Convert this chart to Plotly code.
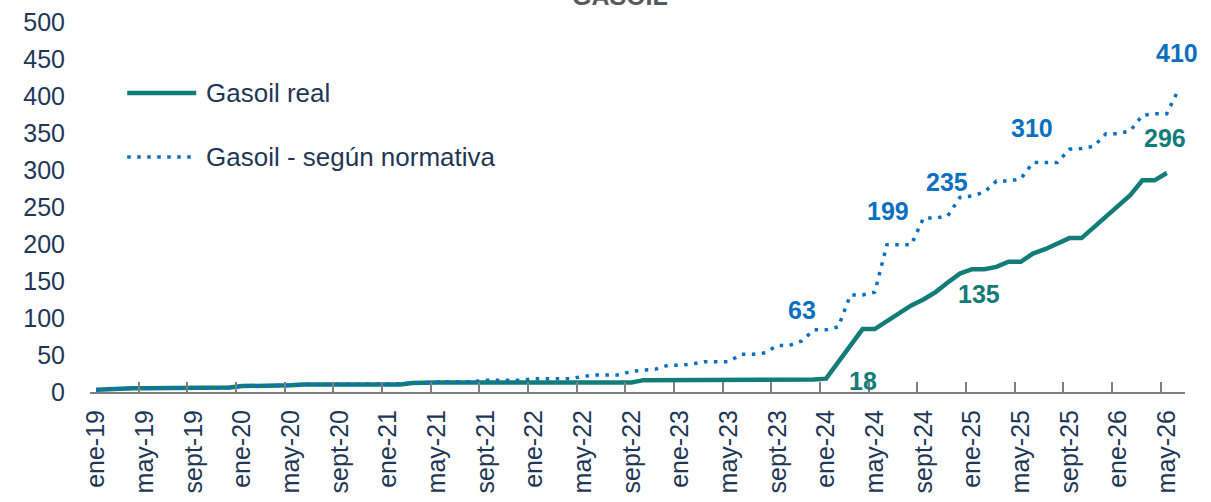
import plotly.graph_objects as go

# Categories: monthly, ene-19 .. jun-26
month_names = ["ene", "feb", "mar", "abr", "may", "jun", "jul", "ago", "sept", "oct", "nov", "dic"]
years = ["19", "20", "21", "22", "23", "24", "25", "26"]
months = [f"{m}-{y}" for y in years for m in month_names][:90]

# Gasoil real (ene-19 .. may-26)
gasoil_real = [
    3, 4, 5, 5, 5, 5, 5, 5, 5, 5, 5, 6,
    8, 8, 8, 8, 9, 10, 10, 10, 10, 10, 10, 10,
    10, 10, 12, 13, 13, 13, 13, 13, 13, 13, 13, 13,
    13, 13, 13, 13, 13, 13, 13, 13, 13, 16, 16, 16,
    17, 17, 17, 17, 17, 17, 17, 17, 17, 17, 17, 17,
    18, 40, 62, 85, 85, 96, 106, 117, 125, 135, 148, 160,
    166, 166, 169, 176, 176, 187, 193, 200, 208, 208, 223, 237,
    253, 266, 286, 286, 296,
]

# Gasoil - según normativa (ene-19 .. jun-26)
gasoil_normativa = [
    3, 4, 5, 5, 5, 5, 5, 5, 5, 5, 5, 6,
    8, 8, 8, 8, 9, 10, 10, 10, 10, 10, 10, 10,
    11, 11, 12, 13, 13, 14, 14, 14, 16, 16, 16, 16,
    18, 18, 18, 18, 21, 23, 23, 23, 28, 29, 31, 36,
    36, 38, 41, 41, 41, 51, 51, 53, 63, 63, 69, 84,
    84, 88, 131, 131, 135, 199, 199, 199, 235, 235, 238, 263,
    265, 270, 285, 285, 288, 310, 310, 310, 328, 329, 332, 349,
    349, 353, 374, 376, 376, 410,
]

GREEN = "#127C79"
BLUE = "#0B6FC2"
NAVY = "#1F3756"
GREY = "#7F7F7F"
FONT = "Liberation Sans, Arial, sans-serif"
DOTS = "3.5px,6.5px"

fig = go.Figure()
fig.add_trace(go.Scatter(
    x=months[:len(gasoil_real)], y=gasoil_real, mode="lines",
    line=dict(color=GREEN, width=4.5), name="Gasoil real", showlegend=False,
))
fig.add_trace(go.Scatter(
    x=months, y=gasoil_normativa, mode="lines",
    line=dict(color=BLUE, width=3.5, dash=DOTS),
    name="Gasoil - según normativa", showlegend=False,
))

# value labels: (series, month, xshift, yshift)
labels = [
    (gasoil_normativa, "oct-23", BLUE, 12, 35),
    (gasoil_normativa, "jul-24", BLUE, -11, 34),
    (gasoil_normativa, "oct-24", BLUE, 11, 36),
    (gasoil_normativa, "jul-25", BLUE, -13, 35),
    (gasoil_normativa, "jun-26", BLUE, -2, 36),
    (gasoil_real, "ene-24", GREEN, 37, -2),
    (gasoil_real, "oct-24", GREEN, 43, -2),
    (gasoil_real, "may-26", GREEN, -2, 35),
]
for series, m, color, dx, dy in labels:
    v = series[months.index(m)]
    fig.add_annotation(
        x=m, y=v, xref="x", yref="y", text=f"<b>{v}</b>", showarrow=False,
        xshift=dx, yshift=dy, font=dict(family=FONT, size=25, color=color),
    )

# legend drawn by hand (long line samples as in the original)
legend_items = [("Gasoil real", GREEN, 4.5, "solid", 0.808),
                ("Gasoil - según normativa", BLUE, 3.5, DOTS, 0.635)]
for name, color, w, dash, ly in legend_items:
    fig.add_shape(type="line", xref="paper", yref="paper",
                  x0=0.034, x1=0.097, y0=ly, y1=ly,
                  line=dict(color=color, width=w, dash=dash))
    fig.add_annotation(x=0.104, y=ly, xref="paper", yref="paper", text=name,
                       showarrow=False, xanchor="left", yanchor="middle",
                       font=dict(family=FONT, size=26, color=NAVY))

# title, mostly cut off at the top edge (as in the original picture)
fig.add_annotation(x=0.484, y=1.027, xref="paper", yref="paper", text="<b>GASOIL</b>",
                   showarrow=False, xanchor="center", yanchor="bottom",
                   font=dict(family=FONT, size=25, color="#595959"))

fig.update_layout(
    width=1211, height=502,
    margin=dict(l=90, r=26, t=22, b=110),
    paper_bgcolor="white", plot_bgcolor="white",
    font=dict(family=FONT, color=NAVY),
    xaxis=dict(
        type="category", categoryorder="array", categoryarray=months,
        range=[-0.5, 89.5], tickmode="linear", tick0=0, dtick=4,
        tickson="boundaries", ticks="inside", ticklen=10, tickwidth=1.5, tickcolor=GREY,
        showline=True, linecolor=GREY, linewidth=2, showgrid=False, zeroline=False,
        tickangle=-90, tickfont=dict(family=FONT, size=25, color=NAVY),
        ticklabelstandoff=6, automargin=False,
    ),
    yaxis=dict(
        range=[0, 500], tickmode="linear", tick0=0, dtick=50,
        showline=False, showgrid=False, zeroline=False, ticks="",
        tickfont=dict(family=FONT, size=25, color=NAVY), ticklabelstandoff=24,
        automargin=False,
    ),
)

fig.write_html("out.html", config={"displayModeBar": False},
               post_script="document.body.style.margin='0';")
